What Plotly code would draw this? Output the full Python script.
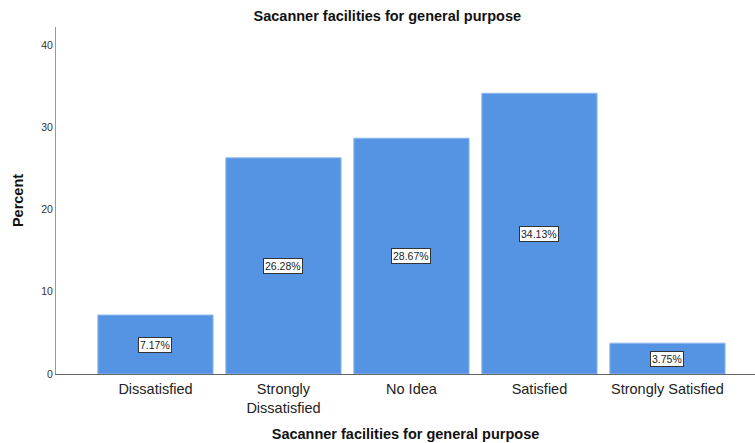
import plotly.graph_objects as go

# Response categories and their percentages
categories = ["Dissatisfied", "Strongly<br>Dissatisfied", "No Idea", "Satisfied", "Strongly Satisfied"]
percent = [7.17, 26.28, 28.67, 34.13, 3.75]
y_ticks = [0, 10, 20, 30, 40]

FONT = "Arial, Liberation Sans, sans-serif"
BAR_BLUE = "#5594E2"

fig = go.Figure()
fig.add_trace(go.Bar(
    x=list(range(len(categories))),
    y=percent,
    marker=dict(color=BAR_BLUE, line=dict(color="#8DB8EE", width=1)),
    hoverinfo="skip",
))

# Boxed value labels at mid-height of each bar
for i, v in enumerate(percent):
    fig.add_annotation(
        x=i, y=v / 2, text=f"{v:.2f}%", showarrow=False,
        font=dict(family=FONT, size=10.5, color="#222222"),
        bgcolor="white", bordercolor="#333333", borderwidth=1, borderpad=1,
    )

fig.update_layout(
    width=755, height=443,
    margin=dict(l=56, r=0, t=27, b=69),
    paper_bgcolor="white", plot_bgcolor="white",
    bargap=0.1,
    showlegend=False,
    title=dict(
        text="<b>Sacanner facilities for general purpose</b>",
        x=0.513, xanchor="center", y=0.963, yanchor="middle",
        font=dict(family=FONT, size=14.5, color="#111111"),
    ),
    xaxis=dict(
        range=[-0.777, 4.684],
        tickmode="array", tickvals=list(range(len(categories))), ticktext=categories,
        tickfont=dict(family=FONT, size=14.5, color="#222222"),
        ticklabelstandoff=2,
        showline=True, linecolor="#666666", linewidth=1,
        ticks="", showgrid=False, zeroline=False,
        title=dict(text="<b>Sacanner facilities for general purpose</b>",
                   font=dict(family=FONT, size=14.5, color="#111111"), standoff=13),
    ),
    yaxis=dict(
        range=[0, 42.19],
        tickmode="array", tickvals=y_ticks,
        tickfont=dict(family=FONT, size=10.5, color="#333333"),
        showline=True, linecolor="#999999", linewidth=1,
        ticks="", showgrid=False, zeroline=False,
        title=dict(text="<b>Percent</b>",
                   font=dict(family=FONT, size=14.5, color="#111111"), standoff=14),
    ),
)

fig.write_html("out.html")
